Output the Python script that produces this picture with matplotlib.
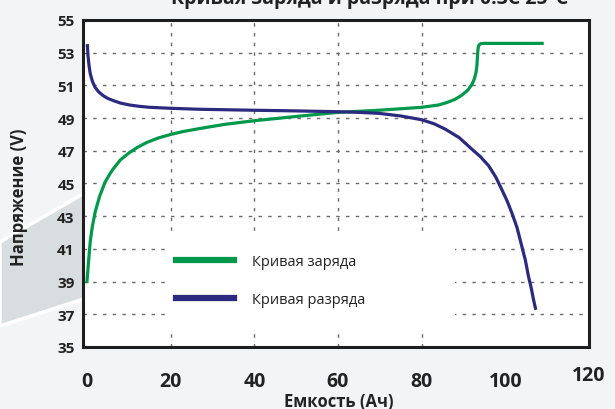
import matplotlib.pyplot as plt
from matplotlib.patches import Polygon, Rectangle

# Charge / discharge curves
charge_ah = [0, 0.4, 0.8, 1.3, 2.0, 3.0, 4.3, 5.5, 6.3, 8, 10.2, 12, 14.2, 17, 20, 23, 26.9,
             33, 40, 50, 60, 69.8, 80, 84, 86, 88, 89.6, 91, 92, 92.6, 93.0, 93.2, 93.3,
             93.4, 93.5, 93.7, 94.1, 94.8, 108.8]
charge_v = [39.0, 40.3, 41.5, 42.4, 43.3, 44.2, 45.07, 45.6, 45.9, 46.45, 46.9, 47.2, 47.5, 47.78,
            48.0, 48.18, 48.36, 48.62, 48.84, 49.1, 49.35, 49.48, 49.66, 49.8, 49.95, 50.15, 50.4,
            50.7, 51.05, 51.4, 51.8, 52.2, 52.6, 53.0, 53.3, 53.47, 53.55, 53.57, 53.57]

discharge_ah = [0.1, 0.25, 0.5, 0.8, 1.3, 1.9, 2.8, 3.9, 5, 6.3, 8, 10.2, 12.5, 15, 20, 26.9,
                40, 50, 60, 65, 69.8, 75, 80, 83, 85.6, 89, 92, 94, 96, 97.7, 99.1, 100.4,
                101.5, 102.8, 103.9, 104.8, 105.5, 106.2, 106.7, 107.2]
discharge_v = [53.43, 52.8, 52.2, 51.7, 51.25, 50.9, 50.6, 50.37, 50.2, 50.07, 49.92, 49.8, 49.72,
               49.66, 49.6, 49.54, 49.48, 49.44, 49.39, 49.35, 49.29, 49.13, 48.9, 48.65, 48.33,
               47.8, 47.1, 46.65, 46.09, 45.4, 44.66, 43.95, 43.24, 42.3, 41.2, 40.3, 39.36,
               38.6, 37.94, 37.37]

x_ticks = [0, 20, 40, 60, 80, 100, 120]
y_ticks = [35, 37, 39, 41, 43, 45, 47, 49, 51, 53, 55]
grid_x = [20, 40, 60, 80]
grid_y = [37, 39, 41, 43, 45, 47, 49, 51, 53]

title = 'Кривая заряда и разряда при 0.3C 25°C'
labels = ['Кривая заряда', 'Кривая разряда']

GREEN = '#00984a'
NAVY = '#2c2a7e'

plt.rcParams['font.family'] = ['Open Sans', 'DejaVu Sans']

fig = plt.figure(figsize=(6.15, 4.10), dpi=100)
fig.patch.set_facecolor('#f3f4f5')

# grey band on the left of the background
W, H = 615.0, 410.0
band = Polygon([(0, 1 - 243 / H), (90 / W, 1 - 191 / H), (90 / W, 1 - 298 / H), (0, 1 - 327 / H)],
               closed=True, transform=fig.transFigure, facecolor='#d8dde0',
               edgecolor='white', lw=2.5, zorder=-1)
fig.patches.append(band)

ax = fig.add_axes([83 / W, (H - 348) / H, (589 - 83) / W, (348 - 21) / H])
ax.set_zorder(1)
ax.set_facecolor('white')
ax.set_xlim(-0.95, 119.5)
ax.set_ylim(35, 55)

ax.vlines(grid_x, 35, 55, colors='#6a6a6a', lw=1, linestyles=(0, (2.5, 4.5)), zorder=1)
ax.hlines(grid_y, -0.95, 119.5, colors='#6a6a6a', lw=1, linestyles=(0, (2.5, 4.5)), zorder=1)

# white box behind the legend
ax.add_patch(Rectangle((0.162, 0.049), 0.573, 0.303, transform=ax.transAxes,
                       facecolor='white', edgecolor='none', zorder=2))

ax.plot(charge_ah, charge_v, color=GREEN, lw=2.3, zorder=3, label=labels[0],
        solid_joinstyle='round')
ax.plot(discharge_ah, discharge_v, color=NAVY, lw=2.3, zorder=3, label=labels[1],
        solid_joinstyle='round')

leg = ax.legend(loc='center left', bbox_to_anchor=(0.184, 0.2035), frameon=False,
                borderaxespad=0, borderpad=0, handlelength=4.0, handletextpad=1.2,
                labelspacing=1.55, prop={'family': 'Open Sans', 'size': 10.5})
for ln in leg.get_lines():
    ln.set_linewidth(4.5)
for t in leg.get_texts():
    t.set_color('#222222')

for s in ax.spines.values():
    s.set_linewidth(2.2)
    s.set_color('#1e1e1e')
    s.set_zorder(5)

ax.set_xticks(x_ticks)
ax.set_yticks(y_ticks)
ax.tick_params(axis='both', length=0, colors='#222222')
ax.tick_params(axis='y', pad=6, labelsize=11)
ax.tick_params(axis='x', pad=17, labelsize=14)
for t in ax.get_xticklabels() + ax.get_yticklabels():
    t.set_fontweight('bold')
ax.get_xticklabels()[-1].set_y(6 / 327)

ax.set_xlabel('Емкость (Ач)', fontsize=12, fontweight='bold', color='#222222')
ax.set_ylabel('Напряжение (V)', fontsize=12, fontweight='bold', color='#222222')
ax.xaxis.set_label_coords(0.506, -0.138)
ax.xaxis.label.set_va('top')
ax.yaxis.set_label_coords(-0.109, 0.462)

fig.text(370 / W, 1 - 4 / H, title, ha='center', va='baseline', fontsize=14,
         fontweight='bold', color='#222222')

fig.savefig('out.png', dpi=100, facecolor=fig.get_facecolor())
